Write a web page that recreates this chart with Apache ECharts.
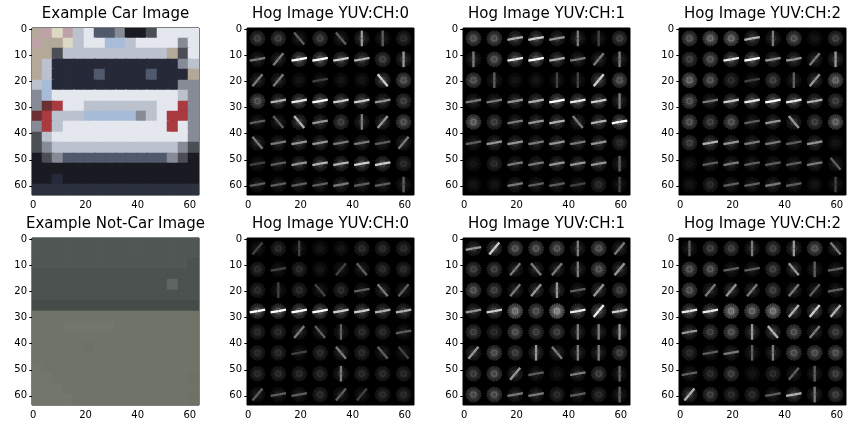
<!DOCTYPE html>
<html>
<head>
<meta charset="utf-8">
<script src="https://cdn.jsdelivr.net/npm/echarts@6/dist/echarts.min.js"></script>
<style>
html, body { margin: 0; padding: 0; background: #fff; }
#chart { width: 864px; height: 432px; }
</style>
</head>
<body>
<div id="chart"></div>
<script>
// 标题
const panelTitles = [
    'Example Car Image', 'Hog Image YUV:CH:0', 'Hog Image YUV:CH:1', 'Hog Image YUV:CH:2',
    'Example Not-Car Image', 'Hog Image YUV:CH:0', 'Hog Image YUV:CH:1', 'Hog Image YUV:CH:2'
];
const xTicks = [0, 20, 40, 60];
const yTicks = [0, 10, 20, 30, 40, 50, 60];

// 车辆图像，16x16 色块（每块 4 像素）
const carPalette = {
    W: '#e4e8ee', L: '#bcc2cd', G: '#868b96', D: '#4c4e56', K: '#1a1b22',
    N: '#262a38', B: '#a6bcd8', R: '#a83a40', r: '#6a3034', T: '#b4a898',
    P: '#bea2a8', Y: '#dcd8c4', S: '#505a6c', Q: '#2c313e'
};
const carRows = [
    'TPYPLWSSGKKDWWWW',
    'PTTYLWWBBLWWWWGW',
    'TTDLLLLLLLLLLTDW',
    'TLNNNNNNNNNNNNGL',
    'TLNNNNSNNNNSNNNT',
    'LBNNNNNNNNNNNNGG',
    'GBWWWWWWWWWWWWLG',
    'GrRWWLLLLLLLWWRG',
    'rRLLLBBBBBGLWRRG',
    'GRLWWWWWWWWWWRWG',
    'DLWWWWWWWWWWWWWG',
    'DGLLLLLLLLLLLLGD',
    'KDGSSSSSSSSSSGDK',
    'KKKKKKKKKKKKKKKK',
    'KKNKKKKKKKKKKKKK',
    'QQQQQQQQQQQQQQQQ'
];

// 非车辆图像
const notCarPalette = {
    a: '#505755', b: '#4b524f', c: '#454c48', e: '#5e6662',
    m: '#707468', n: '#73766a', p: '#6d7166'
};
const notCarRows = [
    'aaaaaaaaaaaaaaaa',
    'aaaaaaaaaaaaaaaa',
    'aaaaaaaaaaaaaaab',
    'bbbbbbbbbbbbbbbb',
    'bbbbbbbbbbbbbebb',
    'bbbbbbbbbbbbbbbb',
    'cccccccccccccccc',
    'mmmmmmmmmmmmmmmm',
    'mmmnnnnnmmmmmmmm',
    'mmmmmmmmmmmmmmmm',
    'mmmmmpmmmmmmmmmm',
    'mmmmmmmmmmmmmmmm',
    'nmmmmmmmmmmmmmmm',
    'nnmmmmmmmmmmmmmp',
    'nnnmmmmmmmmmmmmm',
    'nnnnmmmmmmmmmmmp'
];

// HOG 单元：方向(h 水平, v 垂直, a 上升斜线, d 下降斜线, s 只有星形) + 强度
const hogCarCh0 = [
    's3 s3 d3 s3 d3 v5 v3 s2',
    'h4 a4 h9 h9 h7 h6 s3 v5',
    'a4 a4 s1 h2 s1 s1 d7 s4',
    's4 h6 h8 h9 h7 h7 h5 s3',
    'h3 d3 d6 h5 s3 v4 a5 s4',
    'd4 h4 h5 h5 h4 h4 h3 a4',
    'h2 h3 h5 h6 h6 h7 h7 s2',
    'h3 h3 h3 h3 h4 h3 h3 v3'
];
const hogCarCh1 = [
    's4 s4 h6 h7 h5 v4 v2 s3',
    'v4 s4 h8 h9 h6 h4 a4 v4',
    's4 v3 s1 s1 v2 v2 a7 s4',
    'h4 h4 h5 h6 h9 h8 h7 v4',
    's5 s3 h4 h5 h6 d4 h6 h9',
    'h3 h5 h5 h4 h5 h4 h5 s2',
    's1 s2 h4 h4 h5 h5 h5 v3',
    's1 s1 h4 h3 h3 h2 s2 v2'
];
const hogCarCh2 = [
    's4 s5 s5 h6 v4 s4 s1 s3',
    's3 s4 h8 h9 h5 h5 a4 v5',
    's5 s4 s2 h2 s3 v3 a5 s5',
    's4 h4 h7 h8 h9 h8 h6 s3',
    's4 s3 s4 h3 h5 d5 s3 s5',
    's3 h6 h5 h4 h4 h3 h5 s1',
    's1 h3 h4 h3 h3 h3 h4 d3',
    's1 s2 h3 h3 h4 h3 s1 v2'
];
const hogNotCarCh0 = [
    'a2 s2 v2 s1 s1 s2 s2 s2',
    's2 h2 s2 s1 a2 d3 s2 s2',
    's2 v2 s2 d2 s2 h3 d4 a3',
    'h9 h9 h9 h9 h7 h7 h6 h6',
    's2 s2 a4 d3 v3 s2 s2 h3',
    's2 s2 h2 s2 d4 s2 d3 d2',
    's2 s2 s2 s2 v4 s2 s2 s2',
    'a3 h3 h3 s2 a3 a2 s2 s2'
];
const hogNotCarCh1 = [
    'h5 a7 s4 s4 s4 v4 s4 a4',
    's3 s3 a4 d4 a4 v4 s4 a5',
    's4 s3 a4 a5 v5 h3 a5 s3',
    'h5 h7 s6 s4 s7 h8 a8 h7',
    's3 s2 s4 s3 s3 v4 v4 v5',
    'a5 s4 s3 v5 d4 v4 v4 s3',
    's3 s4 a5 h3 s1 h4 s3 v3',
    's4 s4 h4 h4 s2 h3 s2 v3'
];
const hogNotCarCh2 = [
    'v3 s3 s3 v4 s3 v5 s4 d4',
    's4 s4 h3 h3 s3 d5 v3 h3',
    's4 a4 a5 a4 s3 a4 a3 h3',
    'h8 h8 s6 s5 s6 a6 a7 a6',
    'h5 s3 s4 v5 d6 s4 a4 s3',
    's2 h3 h4 v3 v4 s4 s4 s4',
    'h3 s2 s3 s1 s2 a3 v3 s3',
    'a6 s3 s2 s2 h3 h6 v4 s3'
];

const dirAngle = { h: 10, v: 90, a: 50, d: 130 };

const gridLefts = [32, 247, 463, 679];
const gridTops = [28, 238];
const plotSize = 167;

// 色块图像
function blockSeries(rows, palette, idx) {
    const cells = [];
    rows.forEach((row, r) => row.split('').forEach((ch, c) => cells.push([c, r, ch])));
    const step = 64 / rows.length;
    return {
        type: 'custom',
        xAxisIndex: idx,
        yAxisIndex: idx,
        silent: true,
        clip: true,
        data: cells.map(d => [d[0], d[1]]),
        renderItem: function (params, api) {
            const cell = cells[params.dataIndex];
            const p = api.coord([cell[0] * step - 0.5, cell[1] * step - 0.5]);
            const s = api.size([step, step]);
            return {
                type: 'rect',
                shape: { x: Math.floor(p[0]), y: Math.floor(p[1]), width: Math.ceil(s[0]) + 1, height: Math.ceil(s[1]) + 1 },
                style: { fill: palette[cell[2]], stroke: palette[cell[2]], lineWidth: 0.5 }
            };
        }
    };
}

function hogLine(c, deg, r0, r1, color, lw) {
    const a = deg * Math.PI / 180;
    const cs = Math.cos(a), sn = Math.sin(a);
    return {
        type: 'line',
        shape: { x1: c[0] - cs * r1, y1: c[1] + sn * r1, x2: c[0] - cs * r0, y2: c[1] + sn * r0 },
        style: { stroke: color, lineWidth: lw, lineCap: 'butt' }
    };
}

// HOG 可视化
function hogSeries(rows, idx) {
    const cells = [];
    rows.forEach((row, r) => row.split(' ').forEach((tok, c) => cells.push([c, r, tok[0], +tok.slice(1)])));
    return {
        type: 'custom',
        xAxisIndex: idx,
        yAxisIndex: idx,
        silent: true,
        clip: true,
        data: cells.map(d => [d[0], d[1], d[3]]),
        renderItem: function (params, api) {
            const cell = cells[params.dataIndex];
            const ctr = api.coord([cell[0] * 8 + 3.5, cell[1] * 8 + 3.5]);
            const rad = api.size([6, 6])[0] / 2;
            const lw = api.size([1, 1])[0] * 0.9;
            const starLevel = cell[2] === 's' ? cell[3] : Math.max(1, cell[3] * 0.4);
            const fade = 'rgba(255,255,255,' + (0.045 * starLevel) + ')';
            const kids = [];
            // 星形背景：每个方向两段，中心另画一点
            for (let k = 0; k < 9; k++) {
                kids.push(hogLine(ctr, 10 + 20 * k, rad * 0.3, rad, fade, lw * 0.8));
                kids.push(hogLine(ctr, 190 + 20 * k, rad * 0.3, rad, fade, lw * 0.8));
            }
            kids.push({
                type: 'circle',
                shape: { cx: ctr[0], cy: ctr[1], r: rad * 0.35 },
                style: { fill: 'rgba(255,255,255,' + (0.07 * starLevel) + ')' }
            });
            if (cell[2] !== 's') {
                const g = Math.min(255, cell[3] * 28 + 10);
                const col = 'rgb(' + g + ',' + g + ',' + g + ')';
                kids.push(hogLine(ctr, dirAngle[cell[2]], 0, rad, col, lw));
                kids.push(hogLine(ctr, dirAngle[cell[2]] + 180, 0, rad, col, lw));
            }
            return { type: 'group', children: kids };
        }
    };
}

const panels = [
    blockSeries(carRows, carPalette, 0),
    hogSeries(hogCarCh0, 1),
    hogSeries(hogCarCh1, 2),
    hogSeries(hogCarCh2, 3),
    blockSeries(notCarRows, notCarPalette, 4),
    hogSeries(hogNotCarCh0, 5),
    hogSeries(hogNotCarCh1, 6),
    hogSeries(hogNotCarCh2, 7)
];

const grids = [], xAxes = [], yAxes = [], titles = [];
for (let i = 0; i < 8; i++) {
    const left = gridLefts[i % 4];
    const top = gridTops[Math.floor(i / 4)];
    const isHog = i % 4 !== 0;
    grids.push({
        left: left, top: top, width: plotSize, height: plotSize,
        show: true, borderColor: '#000', borderWidth: 1,
        backgroundColor: isHog ? '#000' : 'transparent'
    });
    xAxes.push({
        gridIndex: i, type: 'value', min: -0.5, max: 63.5,
        axisLine: { show: false },
        splitLine: { show: false },
        axisTick: { customValues: xTicks, length: 4, lineStyle: { color: '#000' } },
        axisLabel: { customValues: xTicks, color: '#000', fontSize: 10, fontFamily: 'DejaVu Sans', margin: 5 }
    });
    yAxes.push({
        gridIndex: i, type: 'value', min: -0.5, max: 63.5, inverse: true,
        axisLine: { show: false },
        splitLine: { show: false },
        axisTick: { customValues: yTicks, length: 4, lineStyle: { color: '#000' } },
        axisLabel: { customValues: yTicks, color: '#000', fontSize: 10, fontFamily: 'DejaVu Sans', margin: 5 }
    });
    titles.push({
        type: 'text',
        x: left + plotSize / 2,
        y: top - 21,
        style: {
            text: panelTitles[i], align: 'center', verticalAlign: 'top',
            font: '15px "DejaVu Sans"', fill: '#000'
        }
    });
}

var myChart = echarts.init(document.getElementById('chart'), null, { renderer: 'canvas' });
myChart.setOption({
    animation: false,
    backgroundColor: '#fff',
    grid: grids,
    xAxis: xAxes,
    yAxis: yAxes,
    graphic: titles,
    series: panels
});
</script>
</body>
</html>
